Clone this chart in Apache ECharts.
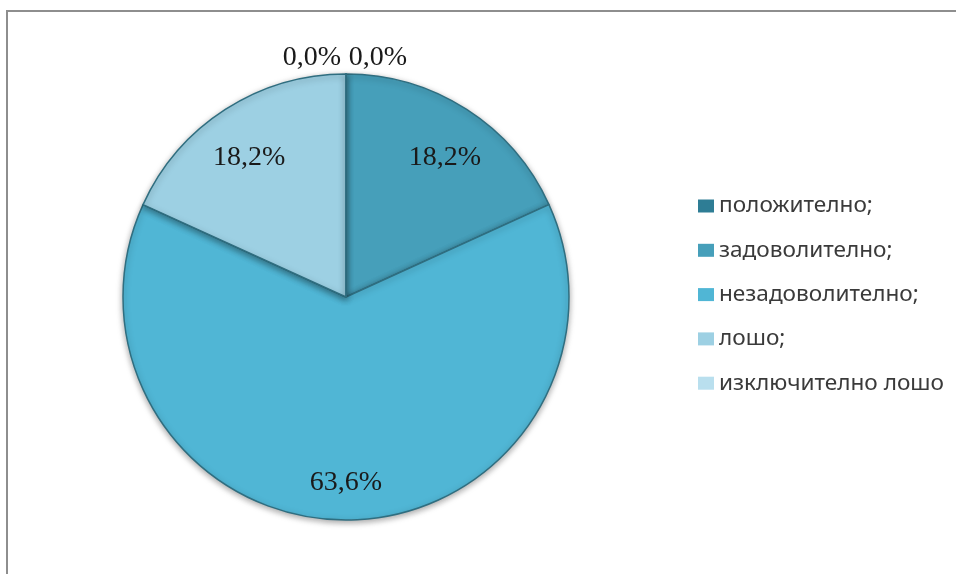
<!DOCTYPE html>
<html><head><meta charset="utf-8">
<script src="https://cdn.jsdelivr.net/npm/echarts@6/dist/echarts.min.js"></script>
<style>html,body{margin:0;padding:0;background:#fff}#c{width:956px;height:574px}</style>
</head><body><div id="c"></div>
<script>
const categories = ['положително;', 'задоволително;', 'незадоволително;', 'лошо;', 'изключително лошо'];
const values = [0.0, 18.2, 63.6, 18.2, 0.0];
const colors = ['#2e7d95', '#469fba', '#50b6d5', '#9dd0e3', '#b9dfee'];

const chart = echarts.init(document.getElementById('c'));
const fmt = p => p.value.toFixed(1).replace('.', ',') + '%';
const CX = 346, CY = 297, R = 223;

const mainData = categories.map((n, i) => ({ name: n, value: values[i], itemStyle: { color: colors[i] } }));
const labelOffsets = [[32, -68], [6, 5], [0, 14], [-4, 5], [-34, -68]];
const labelData = categories.map((n, i) => ({
  name: n, value: values[i],
  itemStyle: { color: 'rgba(0,0,0,0)', borderWidth: 0 },
  label: { offset: labelOffsets[i] }
}));

chart.setOption({
  animation: false,
  color: colors,
  graphic: [{
    type: 'rect', shape: { x: 7, y: 11, width: 980, height: 600 },
    style: { fill: 'none', stroke: '#8e8e8e', lineWidth: 2 }, silent: true
  }],
  legend: {
    orient: 'vertical', left: 693, top: 189, itemGap: 20.3,
    icon: 'rect', itemWidth: 16, itemHeight: 13,
    itemStyle: { borderWidth: 0 },
    textStyle: { fontFamily: 'Noto Sans', fontSize: 22.6, lineHeight: 24, color: '#3a3a3a', padding: [0, 0, 0, 0] },
    data: categories
  },
  series: [{
    type: 'pie', center: [CX, CY], radius: [0, R], startAngle: 90, clockwise: true,
    silent: true, label: { show: false }, labelLine: { show: false },
    itemStyle: { borderColor: '#2f6e80', borderWidth: 1.5, shadowBlur: 6, shadowColor: 'rgba(0,0,0,0.35)', shadowOffsetY: 2 },
    data: mainData
  }, {
    type: 'pie', center: [CX, CY], radius: [114, R], startAngle: 90, clockwise: true,
    silent: true, z: 5, avoidLabelOverlap: false,
    label: { show: true, position: 'inside', formatter: fmt, fontFamily: 'Liberation Serif', fontSize: 28, color: '#1a1a1a' },
    labelLine: { show: false },
    data: labelData
  }]
});
</script></body></html>
